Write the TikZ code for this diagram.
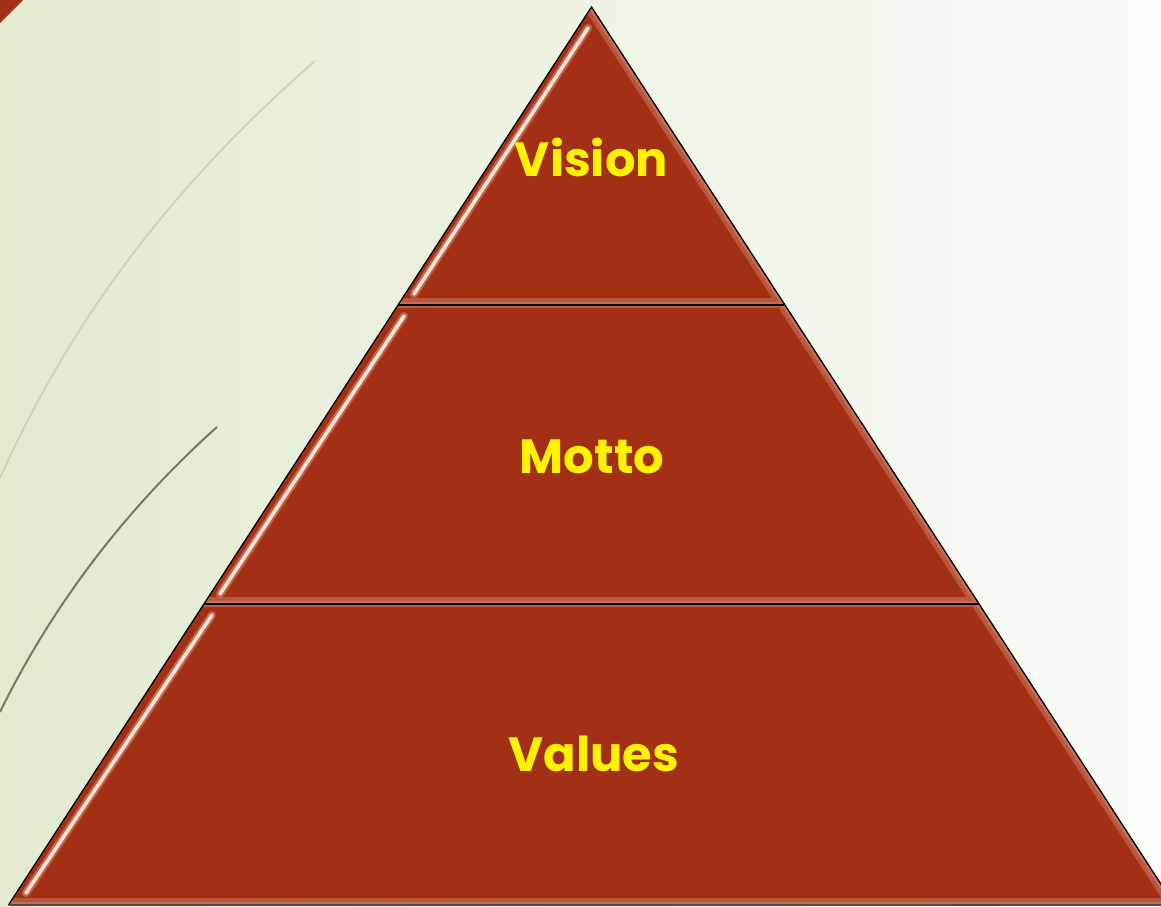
\documentclass[tikz,border=0pt]{standalone}
\usepackage{fontspec}
\newfontfamily\lab{Poppins}
\usetikzlibrary{calc}
\definecolor{bgL}{HTML}{E2EAD0}
\definecolor{bgM}{HTML}{EEF2E3}
\definecolor{bgR}{HTML}{FBFCF9}
\definecolor{brick}{HTML}{A33014}
\definecolor{brickL}{HTML}{D48870}
\definecolor{hilite}{HTML}{FBE2D6}
\definecolor{curveA}{HTML}{CFD1BE}
\definecolor{curveB}{HTML}{7E7860}
\tikzset{
  section/.style={fill=brick},
  edge/.style={draw=black, line width=1.3pt},
  shine/.style={draw=hilite, line width=3.6pt, line cap=round},
  shineglow/.style={draw=brickL, line width=8pt, line cap=round, opacity=0.6},
  bevel/.style={draw=brickL, line width=14pt, opacity=0.45},
  bevelin/.style={draw=brickL, line width=6pt, opacity=0.5},
  lbl/.style={text=yellow, font=\lab\bfseries\fontsize{48}{48}\selectfont, inner sep=0pt}
}
\begin{document}
\begin{tikzpicture}[x=1pt,y=-1pt]
\useasboundingbox (0,0) rectangle (1161,906);
% background
\shade[left color=bgL, middle color=bgM, right color=bgR] (0,0) rectangle (1161,906);
% corner mark
\fill[brick] (0,0) -- (23,0) -- (0,23) -- cycle;
% decorative curves
\draw[curveA, line width=1.8pt] (315,61) .. controls (190,170) and (80,300) .. (0,478);
\draw[curveB, line width=2pt] (217,427) .. controls (130,505) and (55,600) .. (0,712);
% pyramid coordinates
\coordinate (A) at (591.5,7);
\coordinate (L1) at (398,305);  \coordinate (R1) at (785,305);
\coordinate (L2) at (203.9,604); \coordinate (R2) at (979.1,604);
\coordinate (L3) at (8.5,905);   \coordinate (R3) at (1174.5,905);
% sections
\fill[section] (A) -- (R1) -- (L1) -- cycle;
\fill[section] (L1) -- (R1) -- (R2) -- (L2) -- cycle;
\fill[section] (L2) -- (R2) -- (R3) -- (L3) -- cycle;
% bevel shading
\begin{scope}
\clip (A) -- (R1) -- (L1) -- cycle;
\draw[bevel] (L1) -- (R1) -- (A);
\draw[bevelin] (L1) -- (R1) -- (A);
\end{scope}
\begin{scope}
\clip (L1) -- (R1) -- (R2) -- (L2) -- cycle;
\draw[bevel] (L2) -- (R2) -- (R1);
\draw[bevelin] (L2) -- (R2) -- (R1);
\draw[bevelin] (L1) -- (R1);
\end{scope}
\begin{scope}
\clip (L2) -- (R2) -- (R3) -- (L3) -- cycle;
\draw[bevel] (L3) -- (R3) -- (R2);
\draw[bevelin] (L3) -- (R3) -- (R2);
\draw[bevelin] (L2) -- (R2);
\end{scope}
% highlights along left edges
\draw[shineglow] (414,294) -- (588,28);
\draw[shineglow] (220,594) -- (404,316);
\draw[shineglow] (26,893) -- (212,615);
\draw[shine] (414,294) -- (588,28);
\draw[shine] (220,594) -- (404,316);
\draw[shine] (26,893) -- (212,615);
% outlines
\draw[edge] (L3) -- (A) -- (R3);
\draw[edge] (L1) -- (R1);
\draw[edge] (L2) -- (R2);
\draw[draw=black!70, line width=1.6pt] (L3) -- (R3);
% labels
\node[lbl] (vision) at (591.5,157) {Vision};
\node[lbl] (motto) at (592,457) {Motto};
\node[lbl] (values) at (594,754) {Values};
\end{tikzpicture}
\end{document}
